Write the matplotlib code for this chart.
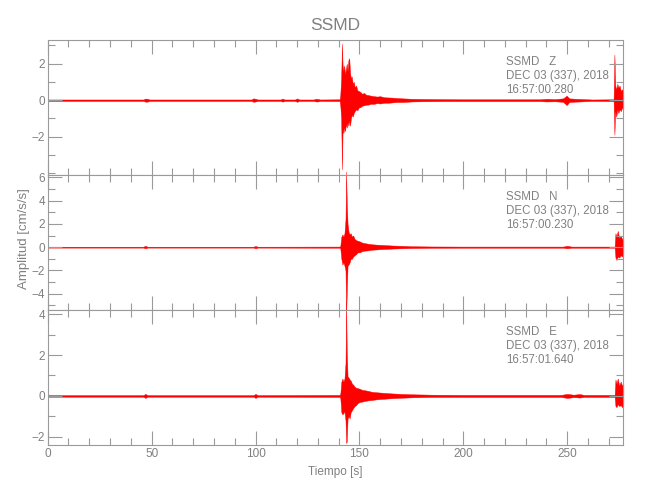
import matplotlib
matplotlib.use('Agg')
import matplotlib.pyplot as plt
from matplotlib.ticker import MultipleLocator, FixedLocator

# === Data: time [s], upper / lower envelope [cm/s/s] ===
z_time = [0, 46, 47, 48, 49, 98, 99, 100, 101, 112, 113, 114, 119, 120, 121,
          128, 129, 130, 131, 140.5,
          140.8, 141.2, 141.6, 141.9, 142.3, 142.7, 143.1, 143.5, 143.9, 144.3,
          144.7, 145.1, 145.5, 145.9, 146.3, 146.8, 147.3, 147.8, 148.4, 149.0,
          149.7, 150.5, 151.3, 152.2, 153.2, 154.3, 155.5, 157, 158.5, 160,
          162, 164, 166, 168, 171, 175, 180, 190, 200, 237, 240, 244, 248,
          249.7, 251, 254, 258, 262, 272.3,
          272.7, 273.1, 273.6, 274.1, 274.6, 275.2, 275.8, 276.4, 277]
z_upper = [0.04, 0.04, 0.09, 0.08, 0.04, 0.04, 0.10, 0.08, 0.04, 0.04, 0.09, 0.04, 0.04, 0.10, 0.04,
           0.04, 0.08, 0.07, 0.04, 0.05,
           0.3, 1.2, 3.1, 1.9, 1.6, 1.9, 1.4, 1.7, 2.0, 1.6,
           2.2, 2.3, 1.5, 1.2, 1.3, 0.9, 1.0, 0.7, 0.8, 0.55,
           0.5, 0.45, 0.35, 0.4, 0.3, 0.28, 0.25, 0.22, 0.2, 0.22,
           0.16, 0.15, 0.14, 0.12, 0.1, 0.08, 0.07, 0.06, 0.05, 0.05, 0.08, 0.06, 0.1,
           0.25, 0.1, 0.08, 0.06, 0.04, 0.05,
           2.5, 0.8, 0.6, 0.9, 0.7, 0.8, 0.5, 0.6, 0.4]
z_lower = [-0.04, -0.04, -0.08, -0.08, -0.04, -0.04, -0.09, -0.07, -0.04, -0.04, -0.08, -0.04, -0.04, -0.09, -0.04,
           -0.04, -0.07, -0.07, -0.04, -0.05,
           -0.3, -1.0, -3.8, -1.6, -1.8, -1.5, -1.7, -1.3, -1.5, -1.2,
           -1.4, -1.1, -1.4, -1.0, -0.8, -0.9, -0.7, -0.6, -0.5, -0.55,
           -0.4, -0.38, -0.3, -0.28, -0.25, -0.24, -0.2, -0.2, -0.16, -0.18,
           -0.14, -0.14, -0.12, -0.1, -0.1, -0.07, -0.06, -0.05, -0.05, -0.05, -0.07, -0.06, -0.09,
           -0.27, -0.1, -0.08, -0.06, -0.04, -0.05,
           -1.9, -0.6, -0.9, -0.5, -0.7, -0.5, -0.6, -0.4, -0.5]

n_time = [0, 46, 47, 48, 99, 100, 101, 140.5,
          140.8, 141.3, 141.8, 142.3, 142.8, 143.3, 143.6, 143.9, 144.3, 144.8,
          145.3, 145.8, 146.4, 147.0, 147.7, 148.4, 149.2, 150.1, 151.2, 152.5,
          154, 156, 158, 160.5, 163, 166, 170, 175, 185, 200, 248, 250, 252, 272.8,
          273.2, 273.7, 274.3, 275, 275.7, 276.4, 277]
n_upper = [0.04, 0.04, 0.12, 0.04, 0.04, 0.1, 0.04, 0.05,
           0.1, 0.9, 1.1, 0.9, 1.2, 2.4, 6.5, 3.9, 2.0, 1.3,
           1.1, 1.2, 0.9, 1.0, 0.7, 0.6, 0.55, 0.5, 0.4, 0.35,
           0.3, 0.25, 0.22, 0.2, 0.17, 0.14, 0.12, 0.08, 0.06, 0.05, 0.05, 0.12, 0.05, 0.05,
           1.2, 0.9, 1.4, 0.8, 1.0, 0.7, 0.8]
n_lower = [-0.04, -0.04, -0.1, -0.04, -0.04, -0.1, -0.04, -0.05,
           -0.1, -1.0, -1.5, -1.3, -1.6, -2.0, -5.8, -4.0, -1.6, -1.5,
           -1.3, -1.0, -1.0, -0.8, -0.7, -0.6, -0.45, -0.45, -0.35, -0.3,
           -0.28, -0.22, -0.2, -0.17, -0.15, -0.12, -0.1, -0.08, -0.06, -0.05, -0.05, -0.1, -0.05, -0.05,
           -0.9, -1.1, -0.8, -0.9, -0.7, -0.8, -0.6]

e_time = [0, 46, 47, 48, 99, 100, 101, 140.5,
          140.8, 141.3, 141.8, 142.3, 142.8, 143.3, 143.6, 143.9, 144.3, 144.8,
          145.3, 145.8, 146.4, 147.0, 147.7, 148.4, 149.2, 150.1, 151.2, 152.5,
          154, 156, 158, 160.5, 163, 166, 170, 175, 185, 200, 247, 250, 253, 256, 258, 272.8,
          273.2, 273.7, 274.3, 275, 275.7, 276.4, 277]
e_upper = [0.04, 0.04, 0.1, 0.04, 0.04, 0.1, 0.04, 0.05,
           0.1, 0.7, 0.85, 0.7, 0.85, 1.6, 4.6, 2.2, 0.95, 0.9,
           0.8, 0.75, 0.6, 0.55, 0.45, 0.4, 0.38, 0.35, 0.3, 0.28,
           0.25, 0.2, 0.18, 0.16, 0.14, 0.12, 0.1, 0.08, 0.06, 0.05, 0.05, 0.1, 0.06, 0.09, 0.05, 0.05,
           0.8, 0.6, 0.85, 0.5, 0.7, 0.5, 0.6]
e_lower = [-0.04, -0.04, -0.1, -0.04, -0.04, -0.1, -0.04, -0.05,
           -0.1, -0.8, -0.9, -0.85, -0.75, -1.2, -2.3, -2.25, -1.1, -1.0,
           -1.1, -0.8, -0.7, -0.6, -0.5, -0.45, -0.35, -0.3, -0.28, -0.25,
           -0.22, -0.2, -0.17, -0.15, -0.13, -0.11, -0.09, -0.07, -0.05, -0.05, -0.05, -0.1, -0.06, -0.08, -0.05, -0.05,
           -0.5, -0.55, -0.4, -0.5, -0.45, -0.55, -0.4]

components = ['Z', 'N', 'E']
start_times = ['16:57:00.280', '16:57:00.230', '16:57:01.640']
y_limits = [(-4.1, 3.3), (-5.4, 6.2), (-2.4, 4.2)]
y_major = [[-2, 0, 2], [-4, -2, 0, 2, 4, 6], [-2, 0, 2, 4]]
x_ticks = [0, 50, 100, 150, 200, 250]

traces = [(z_time, z_upper, z_lower), (n_time, n_upper, n_lower), (e_time, e_upper, e_lower)]

# === Style ===
GRAY = '#9a9a9a'
TEXT = '#808080'
plt.rcParams['font.family'] = ['Liberation Sans', 'DejaVu Sans']

fig, axes = plt.subplots(3, 1, sharex=True, figsize=(6.5, 5), dpi=100)
fig.subplots_adjust(left=0.0734, right=0.959, top=0.92, bottom=0.11, hspace=0)

for ax, (t, up, lo), comp, t0, ylim, ymaj in zip(axes, traces, components, start_times, y_limits, y_major):
    ax.fill_between(t, lo, up, color='red', linewidth=0.3, clip_on=False)
    ax.set_xlim(0, 277)
    ax.set_ylim(*ylim)
    ax.yaxis.set_major_locator(FixedLocator(ymaj))
    ax.yaxis.set_minor_locator(MultipleLocator(1))
    ax.xaxis.set_major_locator(FixedLocator(x_ticks))
    ax.xaxis.set_minor_locator(MultipleLocator(10))
    ax.tick_params(which='both', direction='in', top=True, right=True,
                   color=GRAY, labelcolor=TEXT, width=0.8, labelsize=8.5, pad=2)
    ax.tick_params(which='major', length=10)
    ax.tick_params(which='minor', length=5)
    for spine in ax.spines.values():
        spine.set_color(GRAY)
        spine.set_linewidth(0.8)

    # Station / time labels
    lines = [f'SSMD   {comp}', 'DEC 03 (337), 2018', t0]
    for i, txt in enumerate(lines):
        ax.annotate(txt, xy=(0.797, 1), xycoords='axes fraction',
                    xytext=(0, -21.7 - 14.2 * i), textcoords='offset pixels',
                    ha='left', va='center', color=TEXT, fontsize=8.3)

axes[0].set_title('SSMD', color=TEXT, fontsize=12.5, pad=7)
axes[2].set_xlabel('Tiempo [s]', color=TEXT, fontsize=8.5)
axes[2].xaxis.set_label_coords(0.5, -0.158)
axes[1].set_ylabel('Amplitud [cm/s/s]', color=TEXT, fontsize=9.5)
axes[1].yaxis.set_label_coords(-0.031, 0.53)

plt.savefig('out.png', dpi=100)
plt.close()
